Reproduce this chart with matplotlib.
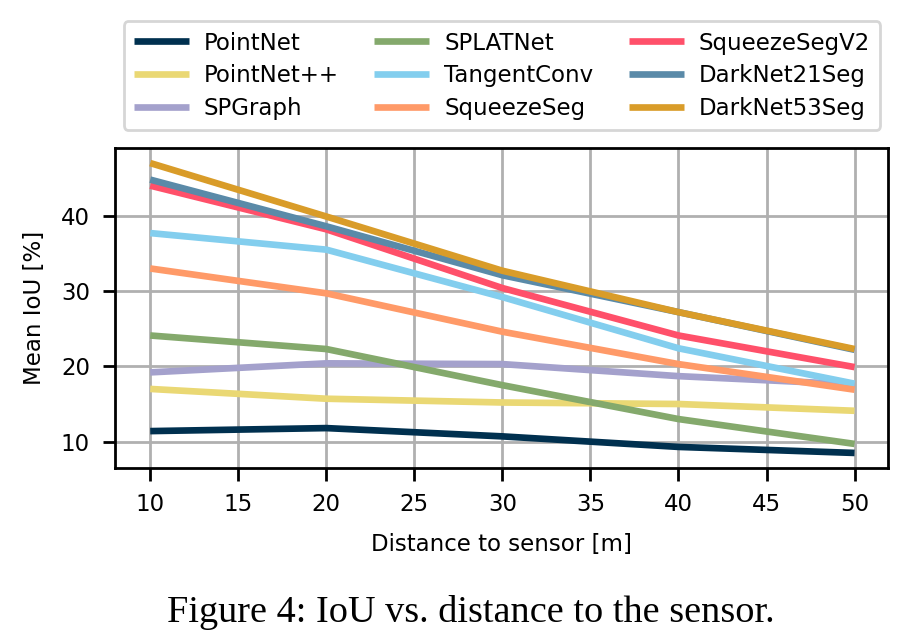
import matplotlib
matplotlib.use("Agg")
import matplotlib.pyplot as plt

distance = [10, 20, 30, 40, 50]
methods = ["PointNet", "PointNet++", "SPGraph", "SPLATNet", "TangentConv",
           "SqueezeSeg", "SqueezeSegV2", "DarkNet21Seg", "DarkNet53Seg"]
pointnet = [11.4, 11.8, 10.7, 9.3, 8.5]
pointnetpp = [17.0, 15.7, 15.2, 15.0, 14.1]
spgraph = [19.2, 20.4, 20.3, 18.7, 17.6]
splatnet = [24.1, 22.3, 17.5, 13.0, 9.7]
tangentconv = [37.7, 35.5, 29.2, 22.4, 17.7]
squeezeseg = [33.0, 29.7, 24.6, 20.3, 16.9]
squeezesegv2 = [44.0, 38.2, 30.4, 24.1, 19.9]
darknet21 = [44.8, 38.6, 32.1, 27.2, 22.2]
darknet53 = [47.0, 39.9, 32.7, 27.2, 22.3]
series = [pointnet, pointnetpp, spgraph, splatnet, tangentconv,
          squeezeseg, squeezesegv2, darknet21, darknet53]
colors = ["#00304f", "#ead874", "#a4a1cc", "#84a96c", "#83ceee",
          "#ff9a68", "#ff506a", "#5a8aa8", "#d99c29"]
yticks = [10, 20, 30, 40]
xticks = [10, 15, 20, 25, 30, 35, 40, 45, 50]

plt.rcParams['font.family'] = ['DejaVu Sans']
fig = plt.figure(figsize=(9.1, 6.37), dpi=100)
ax = fig.add_axes([115/910, 1-468/637, (888-115)/910, (468-148)/637])

for name, vals, c in zip(methods, series, colors):
    ax.plot(distance, vals, color=c, lw=4.8, label=name, solid_capstyle='butt')

ax.set_xlim(8, 51.9)
ax.set_ylim(6.5, 49)
ax.set_xticks(xticks)
ax.set_yticks(yticks)
ax.tick_params(labelsize=16.5, width=2, length=9, pad=9)
ax.grid(True, color="#b0b0b0", lw=2)
ax.set_axisbelow(True)
for s in ax.spines.values():
    s.set_linewidth(2)
ax.set_xlabel("Distance to sensor [m]", fontsize=16.5, labelpad=12)
ax.set_ylabel("Mean IoU [%]", fontsize=16.5, labelpad=11)

leg = ax.legend(ncol=3, fontsize=16.5, loc='lower center',
                bbox_to_anchor=(0.5007, 1.056), borderaxespad=0,
                handlelength=2.4, handletextpad=0.65, columnspacing=1.55,
                borderpad=0.45, labelspacing=0.42, frameon=True, fancybox=True)
leg.get_frame().set_edgecolor("#cccccc")
leg.get_frame().set_linewidth(2)
for h in leg.get_lines():
    h.set_linewidth(4.8)

fig.text(471/910, 1-612/637, "Figure 4: IoU vs. distance to the sensor.",
         ha='center', va='center', fontsize=27.5, family='Liberation Serif')

fig.savefig("out.png", dpi=100)
